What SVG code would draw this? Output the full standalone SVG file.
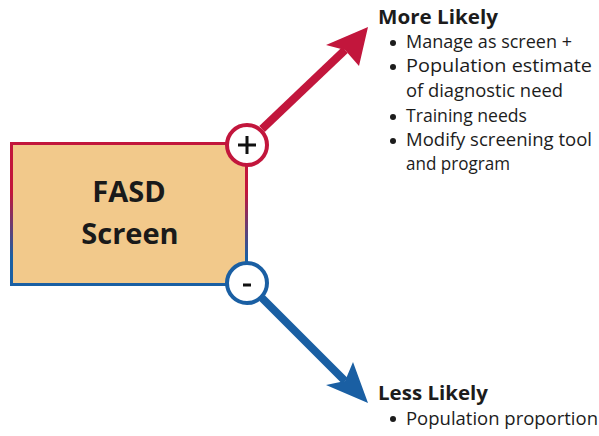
<svg xmlns="http://www.w3.org/2000/svg" width="599" height="436" viewBox="0 0 599 436">
<style>
.t{font-family:"Open Sans","Liberation Sans",sans-serif;fill:#1c1c1c;}
.h{font-size:20px;font-weight:bold;}
.b{font-size:17.5px;}
.big{font-family:"Open Sans","Liberation Sans",sans-serif;font-size:29px;font-weight:bold;fill:#1a1a1a;text-anchor:middle;}
.dot{fill:#1c1c1c;}
</style>
<defs>
<linearGradient id="g" gradientUnits="userSpaceOnUse" x1="0" y1="142" x2="0" y2="286">
<stop offset="0.35" stop-color="#c2163c"/>
<stop offset="0.8" stop-color="#1a5fa3"/>
</linearGradient>
</defs>
<rect width="599" height="436" fill="#fff"/>
<g id="connectors">
<line x1="262" y1="129" x2="345" y2="50" stroke="#c2163c" stroke-width="8"/>
<polygon points="368,27 326,45 345,50 359,66" fill="#c2163c"/>
<line x1="262" y1="298" x2="345" y2="381" stroke="#1a5fa3" stroke-width="8"/>
<polygon points="368,403 326,385 345,381 353,362" fill="#1a5fa3"/>
</g>
<g id="fasd">
<rect x="11.5" y="143.5" width="235" height="141" fill="#f2c98b" stroke="url(#g)" stroke-width="3"/>
<text class="big" x="129" y="202">FASD</text>
<text class="big" x="130" y="244">Screen</text>
</g>
<g id="plus">
<circle cx="247" cy="145" r="20" fill="#fff" stroke="#c2163c" stroke-width="4"/>
<path d="M238 145H256M247 136V154" stroke="#111" stroke-width="3"/>
</g>
<g id="minus">
<circle cx="247" cy="283" r="20" fill="#fff" stroke="#1a5fa3" stroke-width="4"/>
<path d="M243 285H251" stroke="#111" stroke-width="3"/>
</g>
<g id="more">
<text class="t h" x="378" y="24" textLength="120" lengthAdjust="spacingAndGlyphs">More Likely</text>
<circle class="dot" cx="393" cy="43" r="3"/>
<text class="t b" x="406" y="48" textLength="166" lengthAdjust="spacingAndGlyphs">Manage as screen +</text>
<circle class="dot" cx="393" cy="67" r="3"/>
<text class="t b" x="406" y="72" textLength="186" lengthAdjust="spacingAndGlyphs">Population estimate</text>
<text class="t b" x="406" y="97" textLength="157" lengthAdjust="spacingAndGlyphs">of diagnostic need</text>
<circle class="dot" cx="393" cy="117" r="3"/>
<text class="t b" x="406" y="122" textLength="121" lengthAdjust="spacingAndGlyphs">Training needs</text>
<circle class="dot" cx="393" cy="141" r="3"/>
<text class="t b" x="406" y="146" textLength="186" lengthAdjust="spacingAndGlyphs">Modify screening tool</text>
<text class="t b" x="406" y="170" textLength="104" lengthAdjust="spacingAndGlyphs">and program</text>
</g>
<g id="less">
<text class="t h" x="378" y="400" textLength="110" lengthAdjust="spacingAndGlyphs">Less Likely</text>
<circle class="dot" cx="393" cy="419" r="3"/>
<text class="t b" x="406" y="425" textLength="192" lengthAdjust="spacingAndGlyphs">Population proportion</text>
</g>
</svg>
